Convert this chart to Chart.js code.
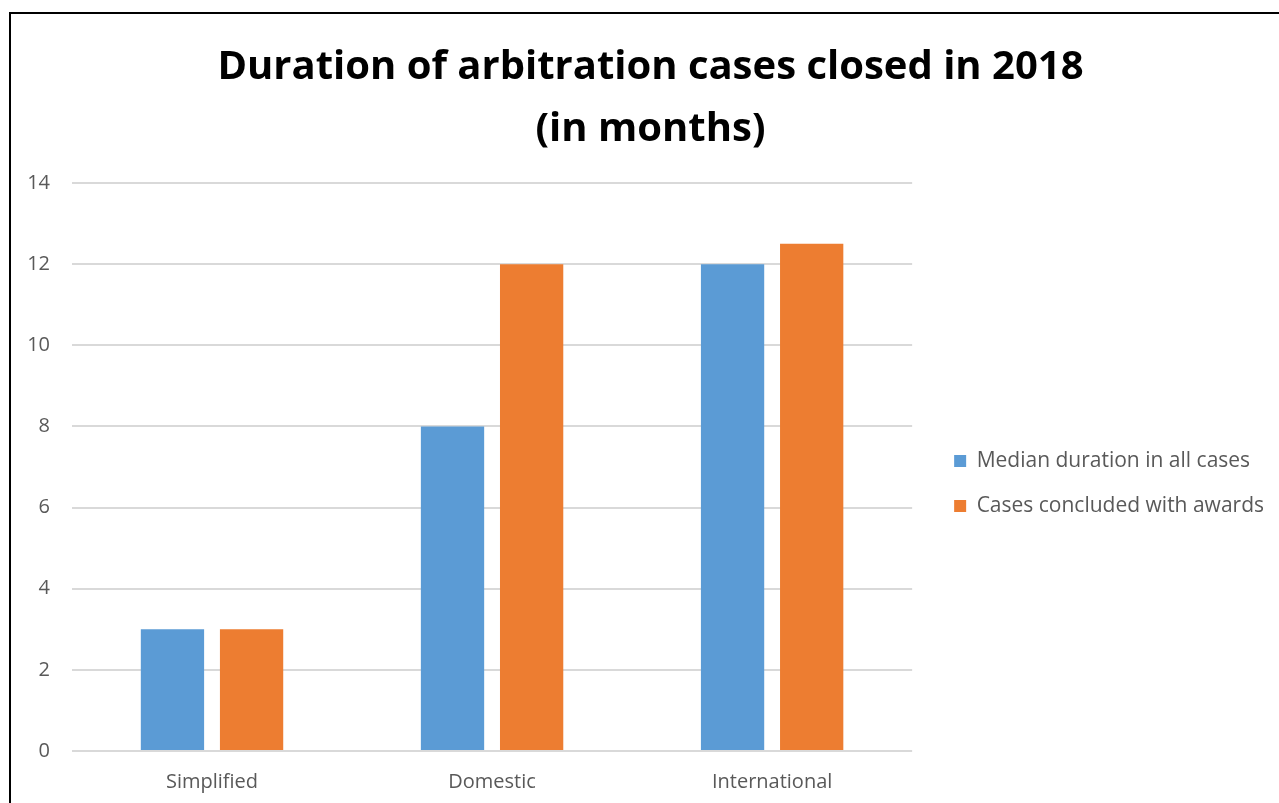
<!DOCTYPE html>
<html>
<head>
<meta charset="utf-8">
<script src="https://cdn.jsdelivr.net/npm/chart.js@4/dist/chart.umd.min.js"></script>
<style>
  html, body { margin: 0; padding: 0; background: #fff; overflow: hidden; width: 1279px; height: 803px; }
  #frame { position: absolute; left: 9px; top: 12px; width: 1280px; height: 800px; border-left: 2px solid #000; border-top: 2px solid #000; }
  #c { display: block; }
</style>
</head>
<body>
<div id="frame"><canvas id="c" width="1280" height="800"></canvas></div>
<script>
const categories = ["Simplified", "Domestic", "International"];
const medianDuration = [3, 8, 12];
const awardCases = [3, 12, 12.5];
const seriesNames = ["Median duration in all cases", "Cases concluded with awards"];
const titleLines = ["Duration of arbitration cases closed in 2018", "(in months)"];
const yTicks = [0, 2, 4, 6, 8, 10, 12, 14];

const FONT = "'Open Sans', 'DejaVu Sans', sans-serif";
const GREY = "#595959";

// let the right-hand legend take the width its labels need
const legendWidthPlugin = {
  id: 'legendWidth',
  afterInit(chart) {
    const lg = chart.legend;
    if (!lg || lg._patched) return;
    const orig = lg.fit;
    lg.fit = function () { this.maxWidth = 600; orig.call(this); };
    lg._patched = true;
  }
};

new Chart(document.getElementById('c'), {
  type: 'bar',
  plugins: [legendWidthPlugin],
  data: {
    labels: categories,
    datasets: [
      { label: seriesNames[0], data: medianDuration, backgroundColor: '#5b9bd5', borderWidth: 0, yAxisID: 'y' },
      { label: seriesNames[1], data: awardCases, backgroundColor: '#ed7d31', borderWidth: 0, yAxisID: 'y' }
    ]
  },
  options: {
    responsive: false,
    animation: false,
    layout: { padding: { top: 0, left: 16, right: 17, bottom: 1 } },
    datasets: { bar: { barPercentage: 0.8, categoryPercentage: 0.565 } },
    plugins: {
      title: {
        display: true,
        text: titleLines,
        color: '#000',
        font: { family: FONT, size: 40, weight: 'bold', lineHeight: 1.55 },
        padding: { top: 23, bottom: 22 }
      },
      legend: {
        display: true,
        position: 'right',
        fullSize: false,
        title: { display: true, text: '', font: { size: 1, lineHeight: 1 }, padding: { top: 32, bottom: 0 } },
        labels: {
          boxWidth: 12,
          boxHeight: 12,
          padding: 24,
          color: GREY,
          font: { family: FONT, size: 21 }
        }
      },
      tooltip: { enabled: false }
    },
    scales: {
      x: {
        grid: { display: false, drawTicks: false },
        border: { display: false },
        ticks: { color: GREY, font: { family: FONT, size: 20 }, padding: 19 }
      },
      y: {
        min: 0,
        max: 14,
        afterBuildTicks: (s) => { s.ticks = yTicks.map(v => ({ value: v })); },
        afterFit: (s) => { s.width = 45; },
        grid: { color: '#d9d9d9', lineWidth: 2, drawTicks: false },
        border: { display: false },
        ticks: { color: GREY, font: { family: FONT, size: 20 }, padding: 22, stepSize: 2 }
      },
      yR: {
        type: 'linear',
        position: 'right',
        display: true,
        grid: { display: false, drawTicks: false },
        border: { display: false },
        ticks: { display: false },
        afterFit: (s) => { s.width = 18; }
      }
    }
  }
});
</script>
</body>
</html>
